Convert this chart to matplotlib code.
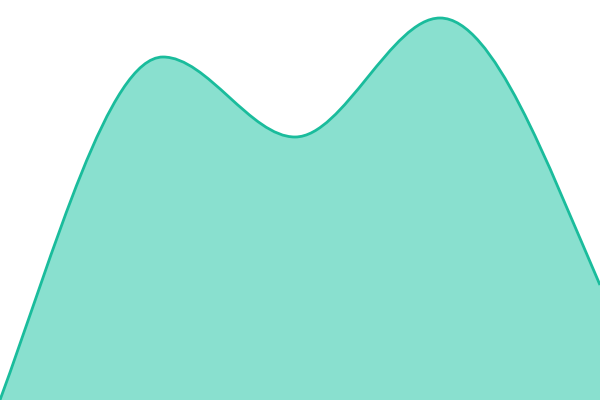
import matplotlib
matplotlib.use("Agg")
import matplotlib.pyplot as plt
from matplotlib.path import Path
from matplotlib.patches import PathPatch

# knots of the curve (x position, value) and slope at each knot
x_pos = [0, 163, 295, 440, 600]
values = [0, 85.75, 65.75, 95.5, 28.75]
slopes = [0.68, 0, 0, 0, -0.575]

line_color = '#1abc9c'
fill_color = '#89e0cf'


def curve_path(xs, ys, ms, close=False):
    verts = [(xs[0], ys[0])]
    codes = [Path.MOVETO]
    for i in range(len(xs) - 1):
        h = xs[i + 1] - xs[i]
        verts += [(xs[i] + h / 3, ys[i] + ms[i] * h / 3),
                  (xs[i + 1] - h / 3, ys[i + 1] - ms[i + 1] * h / 3),
                  (xs[i + 1], ys[i + 1])]
        codes += [Path.CURVE4] * 3
    if close:
        verts += [(xs[-1], 0), (xs[0], 0), (xs[0], ys[0])]
        codes += [Path.LINETO, Path.LINETO, Path.CLOSEPOLY]
    return Path(verts, codes)


fig = plt.figure(figsize=(6, 4), dpi=100)
ax = fig.add_axes([0, 0, 1, 1])

ax.add_patch(PathPatch(curve_path(x_pos, values, slopes, close=True),
                       facecolor=fill_color, edgecolor='none'))
ax.add_patch(PathPatch(curve_path(x_pos, values, slopes),
                       facecolor='none', edgecolor=line_color, lw=2.0))

ax.set_xlim(0, 600)
ax.set_ylim(0, 100)
ax.axis('off')

fig.savefig('out.png', dpi=100)
